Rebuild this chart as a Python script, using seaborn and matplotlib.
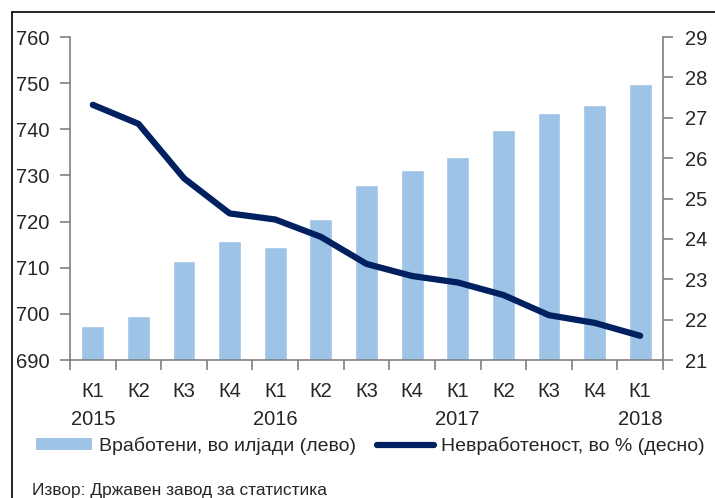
import matplotlib
matplotlib.use("Agg")
import matplotlib.pyplot as plt
from matplotlib.lines import Line2D
from matplotlib.patches import Patch
import seaborn as sns
import pandas as pd
import numpy as np

quarters = ["К1", "К2", "К3", "К4", "К1", "К2", "К3", "К4", "К1", "К2", "К3", "К4", "К1"]
years = ["2015", "", "", "", "2016", "", "", "", "2017", "", "", "", "2018"]
employed = [697.3, 699.6, 711.5, 715.8, 714.5, 720.6, 728.0, 731.2, 734.1, 739.8, 743.5, 745.2, 749.8]
unemployment = [27.32, 26.85, 25.5, 24.63, 24.48, 24.05, 23.38, 23.08, 22.92, 22.61, 22.11, 21.92, 21.6]
left_ticks = [690, 700, 710, 720, 730, 740, 750, 760]
right_ticks = [21, 22, 23, 24, 25, 26, 27, 28, 29]
label_bar = "Вработени, во илјади (лево)"
label_line = "Невработеност, во % (десно)"
source = "Извор: Државен завод за статистика"

sns.set_theme(style="white")
plt.rcParams['font.family'] = ['Liberation Sans', 'DejaVu Sans']

bar_color = "#9DC3E6"
line_color = "#002060"
spine_color = "#808080"
fs = 14.5

labels = [q + ("\n" + y if y else "") for q, y in zip(quarters, years)]
df = pd.DataFrame({"idx": np.arange(len(quarters)), "employed": employed, "unemp": unemployment})

fig = plt.figure(figsize=(7.15, 4.98), dpi=100)
ax = fig.add_axes([70/715, 1 - 360/498, (663-70)/715, (360-37)/498])

sns.barplot(data=df, x="idx", y="employed", color=bar_color, width=0.5,
            saturation=1, ax=ax, native_scale=True)
ax.set_ylim(690, 760)
ax.set_xlim(-0.5, len(quarters) - 0.5)
ax.set_yticks(left_ticks)
ax.set_yticklabels([str(t) for t in left_ticks], fontsize=fs)
ax.set_xlabel("")
ax.set_ylabel("")

ax.set_xticks(np.arange(-0.5, len(quarters), 1.0))
ax.set_xticklabels([])
ax.set_xticks(np.arange(len(quarters)), minor=True)
ax.set_xticklabels(labels, minor=True, fontsize=fs, linespacing=1.58)
ax.tick_params(axis="x", which="major", length=7, width=1.2, color=spine_color, direction="out", bottom=True)
ax.tick_params(axis="x", which="minor", length=0, pad=16)
ax.tick_params(axis="y", length=7, width=1.2, color=spine_color, direction="out", left=True, pad=8)

ax2 = ax.twinx()
sns.lineplot(data=df, x="idx", y="unemp", color=line_color, linewidth=4.5, ax=ax2,
             solid_capstyle="round", solid_joinstyle="round")
ax2.set_ylim(21, 29)
ax2.set_yticks(right_ticks)
ax2.set_yticklabels([str(t) for t in right_ticks], fontsize=fs)
ax2.set_ylabel("")
ax2.set_xlabel("")
ax2.set_xlim(-0.5, len(quarters) - 0.5)
ax2.tick_params(axis="y", length=7, width=1.2, color=spine_color, direction="out", right=True, pad=9)

for a in (ax, ax2):
    a.spines["top"].set_visible(False)
    for s in ("left", "right", "bottom"):
        a.spines[s].set_color(spine_color)
        a.spines[s].set_linewidth(1.2)
    a.grid(False)
ax.spines["right"].set_visible(False)
ax2.spines["left"].set_visible(False)
ax2.spines["bottom"].set_visible(False)

handles = [Patch(facecolor=bar_color, edgecolor="none"),
           Line2D([0], [0], color=line_color, linewidth=4.5, solid_capstyle="round")]
fig.legend(handles, [label_bar, label_line], loc="center left",
           bbox_to_anchor=(30/715, 1 - 446/498), ncol=2, frameon=False, fontsize=14,
           handlelength=2.9, handleheight=0.6, handletextpad=0.35, columnspacing=1.1,
           borderaxespad=0, borderpad=0.3)

fig.text(32/715, 1 - 490/498, source, fontsize=12.5, ha="left", va="center")

# frame lines (left and top)
fig.add_artist(Line2D([12/715, 12/715], [0, 1 - 12/498], color="black", linewidth=1.2,
                      transform=fig.transFigure))
fig.add_artist(Line2D([12/715, 1], [1 - 12/498, 1 - 12/498], color="black", linewidth=1.2,
                      transform=fig.transFigure))

fig.savefig("out.png", dpi=100)
